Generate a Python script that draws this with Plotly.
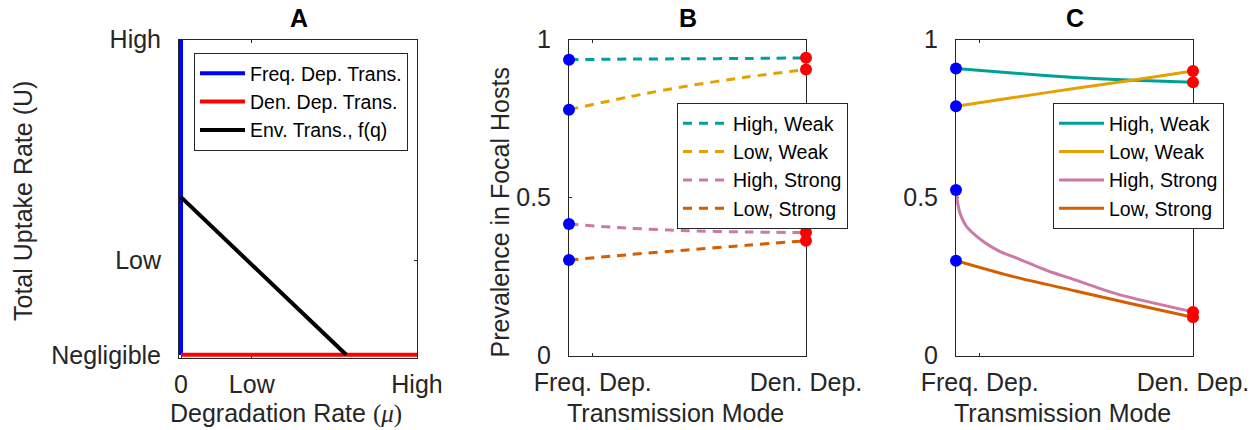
import plotly.graph_objects as go

W, H = 1253, 430
FONT = "Liberation Sans, Arial, sans-serif"
TXT = "#262626"

# ---------------- Panel A data ----------------
a_xtickvals = [0, 0.3, 1]
a_xticktext = ["0", "Low", "High"]
a_ytickvals = [0, 0.3, 1]
a_yticktext = ["Negligible", "Low", "High"]
freq_x = [0, 0]
freq_y = [0, 1]
den_x = [0, 1]
den_y = [0, 0]
env_x = [0, 0.7]
env_y = [0.5, 0]

# ---------------- Panel B / C data ----------------
mode_tickvals = [0.1, 1]
mode_ticktext = ["Freq. Dep.", "Den. Dep."]
prev_tickvals = [0, 0.5, 1]
prev_ticktext = ["0", "0.5", "1"]

series_names = ["High, Weak", "Low, Weak", "High, Strong", "Low, Strong"]
series_colors = ["#00A09A", "#E6A000", "#CC79A7", "#D55E00"]

b_x = [0, 0.25, 0.5, 0.75, 1]
b_high_weak = [0.936, 0.938, 0.939, 0.940, 0.942]
b_low_weak = [0.778, 0.818, 0.853, 0.881, 0.905]
b_high_strong = [0.416, 0.403, 0.395, 0.391, 0.389]
b_low_strong = [0.302, 0.319, 0.334, 0.349, 0.363]

c_x = [0, 0.25, 0.5, 0.75, 1]
c_high_weak = [0.908, 0.893, 0.880, 0.871, 0.865]
c_low_weak = [0.789, 0.817, 0.845, 0.872, 0.900]
c_hs_x = [0, 0.005, 0.017, 0.045, 0.115, 0.186, 0.256, 0.397, 0.481, 0.678, 1.0]
c_high_strong = [0.524, 0.492, 0.450, 0.408, 0.361, 0.329, 0.308, 0.265, 0.245, 0.195, 0.138]
c_low_strong = [0.300, 0.248, 0.205, 0.162, 0.121]


def px_x(p):
    return p / W


def px_y(p):
    return 1 - p / H


fig = go.Figure()

# Panel A lines
fig.add_trace(go.Scatter(x=freq_x, y=freq_y, mode="lines", name="Freq. Dep. Trans.",
                         line=dict(color="#0000FF", width=4), xaxis="x", yaxis="y", legend="legend"))
fig.add_trace(go.Scatter(x=den_x, y=den_y, mode="lines", name="Den. Dep. Trans.",
                         line=dict(color="#FF0000", width=4), xaxis="x", yaxis="y", legend="legend"))
fig.add_trace(go.Scatter(x=env_x, y=env_y, mode="lines", name="Env. Trans., f(q)",
                         line=dict(color="#000000", width=4), xaxis="x", yaxis="y", legend="legend"))

# Panel B
b_series = [(b_x, b_high_weak), (b_x, b_low_weak), (b_x, b_high_strong), (b_x, b_low_strong)]
for (xs, ys), nm, col in zip(b_series, series_names, series_colors):
    fig.add_trace(go.Scatter(x=xs, y=ys, mode="lines", name=nm,
                             line=dict(color=col, width=3, dash="9px,7px", shape="spline", smoothing=0.8),
                             xaxis="x2", yaxis="y2", legend="legend2"))
fig.add_trace(go.Scatter(x=[xs[0] for xs, ys in b_series], y=[ys[0] for xs, ys in b_series],
                         mode="markers", marker=dict(color="#0000FF", size=12), cliponaxis=False,
                         showlegend=False, xaxis="x2", yaxis="y2"))
fig.add_trace(go.Scatter(x=[xs[-1] for xs, ys in b_series], y=[ys[-1] for xs, ys in b_series],
                         mode="markers", marker=dict(color="#FF0000", size=12), cliponaxis=False,
                         showlegend=False, xaxis="x2", yaxis="y2"))

# Panel C
c_series = [(c_x, c_high_weak), (c_x, c_low_weak), (c_hs_x, c_high_strong), (c_x, c_low_strong)]
for (xs, ys), nm, col in zip(c_series, series_names, series_colors):
    fig.add_trace(go.Scatter(x=xs, y=ys, mode="lines", name=nm,
                             line=dict(color=col, width=3, shape="spline", smoothing=0.8),
                             xaxis="x3", yaxis="y3", legend="legend3"))
fig.add_trace(go.Scatter(x=[xs[0] for xs, ys in c_series], y=[ys[0] for xs, ys in c_series],
                         mode="markers", marker=dict(color="#0000FF", size=12), cliponaxis=False,
                         showlegend=False, xaxis="x3", yaxis="y3"))
fig.add_trace(go.Scatter(x=[xs[-1] for xs, ys in c_series], y=[ys[-1] for xs, ys in c_series],
                         mode="markers", marker=dict(color="#FF0000", size=12), cliponaxis=False,
                         showlegend=False, xaxis="x3", yaxis="y3"))

axis_common = dict(showline=True, linecolor=TXT, linewidth=1, mirror="ticks", ticks="inside",
                   ticklen=3, tickwidth=1, tickcolor=TXT, showgrid=False, zeroline=False,
                   tickfont=dict(family=FONT, size=25, color=TXT), layer="below traces",
                   automargin=False, fixedrange=True)

yd = [px_y(355.5), px_y(39.5)]
fig.update_layout(
    width=W, height=H, margin=dict(l=0, r=0, t=0, b=0),
    paper_bgcolor="white", plot_bgcolor="white",
    xaxis=dict(domain=[px_x(179), px_x(417)], range=[-0.0085, 1.0], tickmode="array",
               tickvals=a_xtickvals, ticktext=a_xticktext, anchor="y", ticklabelstandoff=4, **axis_common),
    yaxis=dict(domain=[px_y(357.5), px_y(39.5)], range=[-0.0085, 1.0], tickmode="array",
               tickvals=a_ytickvals, ticktext=a_yticktext, anchor="x", ticklabelstandoff=12, **axis_common),
    xaxis2=dict(domain=[px_x(569), px_x(806)], range=[0, 1], tickmode="array",
                tickvals=mode_tickvals, ticktext=mode_ticktext, anchor="y2", ticklabelstandoff=4, **axis_common),
    yaxis2=dict(domain=yd, range=[0, 1], tickmode="array",
                tickvals=prev_tickvals, ticktext=prev_ticktext, anchor="x2", ticklabelstandoff=12, **axis_common),
    xaxis3=dict(domain=[px_x(956), px_x(1193)], range=[0, 1], tickmode="array",
                tickvals=mode_tickvals, ticktext=mode_ticktext, anchor="y3", ticklabelstandoff=4, **axis_common),
    yaxis3=dict(domain=yd, range=[0, 1], tickmode="array",
                tickvals=prev_tickvals, ticktext=prev_ticktext, anchor="x3", ticklabelstandoff=12, **axis_common),
)

leg_common = dict(xanchor="left", yanchor="top", bgcolor="white", bordercolor=TXT, borderwidth=1,
                  font=dict(family=FONT, size=19.5, color="#000000"), tracegroupgap=0,
                  itemclick=False, itemwidth=45, entrywidthmode="pixels")
fig.update_layout(
    legend=dict(x=px_x(194), y=px_y(53), entrywidth=240, **leg_common),
    legend2=dict(x=px_x(677), y=px_y(103), entrywidth=190, **leg_common),
    legend3=dict(x=px_x(1053), y=px_y(103), entrywidth=190, **leg_common),
)

ann_font = dict(family=FONT, size=25, color=TXT)
annotations = [
    dict(text="<b>A</b>", x=px_x(299), y=px_y(18), font=dict(family=FONT, size=25, color="#000")),
    dict(text="<b>B</b>", x=px_x(687.5), y=px_y(18), font=dict(family=FONT, size=25, color="#000")),
    dict(text="<b>C</b>", x=px_x(1074.5), y=px_y(18), font=dict(family=FONT, size=25, color="#000")),
    dict(text="Total Uptake Rate (U)", x=px_x(23), y=px_y(201), textangle=-90, font=ann_font),
    dict(text="Prevalence in Focal Hosts", x=px_x(499), y=px_y(212.5), textangle=-90, font=ann_font),
    dict(text="Degradation Rate <span style=\"font-family:Liberation Serif\">(<i>μ</i>)</span>",
         x=px_x(285.5), y=px_y(413), font=ann_font),
    dict(text="Transmission Mode", x=px_x(675), y=px_y(413), font=ann_font),
    dict(text="Transmission Mode", x=px_x(1062.5), y=px_y(413), font=ann_font),
]
for a in annotations:
    a.update(xref="paper", yref="paper", showarrow=False, xanchor="center", yanchor="middle")
fig.update_layout(annotations=annotations)

fig.write_html("out.html")
